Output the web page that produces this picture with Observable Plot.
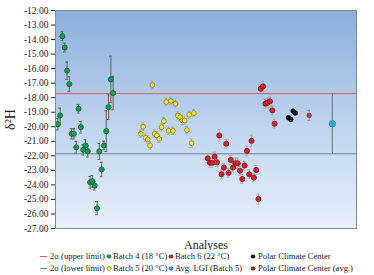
<!DOCTYPE html>
<html><head><meta charset="utf-8">
<script src="https://cdn.jsdelivr.net/npm/d3@7"></script>
<script src="https://cdn.jsdelivr.net/npm/@observablehq/plot@0.6"></script>
<style>
body{margin:0;background:#fff;font-family:"Liberation Serif",serif;}
#legend{position:relative;width:374px;height:25px;font-size:8.6px;color:#222;}
#legend .item{position:absolute;white-space:nowrap;line-height:10px;}
#legend .sw{position:absolute;}
</style></head><body><div id="chart"></div><div id="legend"></div><script>
// Batch 4 (18 °C): analyses 1..25
const batch4Start = 1;
const batch4 = [-19.82,-19.22,-13.77,-14.55,-16.14,-17.06,-20.48,-20.48,-21.41,-18.76,-20.03,-21.59,-21.29,-21.68,-23.82,-23.75,-24.05,-25.61,-21.70,-22.94,-21.29,-20.30,-18.65,-16.74,-17.68];
const batch4Err = [0.4,0.5,0.3,0.3,0.6,0.5,0.35,0.35,0.4,0.3,0.4,0.35,0.4,0.4,0.4,0.4,0.3,0.45,0.55,0.5,0.3,1.4,0.85,1.6,1.15];
// Batch 5 (20 °C): analyses 37..60
const batch5Start = 37;
const batch5 = [-20.48,-20.0,-20.76,-20.88,-21.29,-17.13,-20.48,-20.60,-20.83,-20.03,-19.61,-18.30,-20.28,-18.23,-20.28,-18.41,-19.22,-19.34,-19.57,-19.57,-20.23,-19.17,-21.13,-19.06];
const batch5Err = [0.25,0.25,0.25,0.25,0.25,0.25,0.25,0.25,0.25,0.25,0.25,0.25,0.25,0.25,0.25,0.25,0.25,0.25,0.3,0.25,0.25,0.25,0.3,0.25];
// Batch 6 (22 °C): analyses 66..95
const batch6Start = 66;
const batch6 = [-22.17,-22.48,-22.48,-22.05,-22.44,-20.60,-23.27,-22.81,-21.17,-23.17,-22.28,-22.81,-22.51,-22.51,-23.03,-23.59,-22.67,-21.66,-23.27,-20.97,-23.50,-22.97,-24.97,-17.38,-17.22,-18.41,-18.34,-18.25,-18.88,-19.79];
const batch6Err = [0.3,0.3,0.3,0.3,0.3,0.4,0.3,0.3,0.3,0.3,0.3,0.3,0.35,0.35,0.3,0.3,0.3,0.35,0.3,0.4,0.3,0.3,0.35,0.3,0.3,0.3,0.3,0.3,0.3,0.3];
// Polar Climate Center: analyses 101..104
const pccStart = 101;
const pcc = [-19.38,-19.50,-18.92,-19.06];
// Polar Climate Center (avg.)
const pccAvgN = 110, pccAvg = -19.22, pccAvgErr = 0.35;
// Avg. LGI (Batch 5)
const lgiN = 120, lgi = -19.79;
// 2σ limits
const upperLimit = -17.72, lowerLimit = -21.86;
const yTicks = [-27,-26,-25,-24,-23,-22,-21,-20,-19,-18,-17,-16,-15,-14,-13,-12];

const rows = (vals, errs, start) => vals.map((v, i) => ({n: start + i, v, e: errs ? errs[i] : 0}));
const b4 = rows(batch4, batch4Err, batch4Start);
const b5 = rows(batch5, batch5Err, batch5Start);
const b6 = rows(batch6, batch6Err, batch6Start);
const pc = rows(pcc, null, pccStart);
const pa = [{n: pccAvgN, v: pccAvg, e: pccAvgErr}];
const lg = [{n: lgiN, v: lgi, lo: lowerLimit, hi: upperLimit}];

function errMarks(data, color, w) {
  return [
    Plot.ruleX(data, {x: "n", y1: d => d.v - d.e, y2: d => d.v + d.e, stroke: color, strokeWidth: w}),
    Plot.ruleY(data, {x1: d => d.n - 0.6, x2: d => d.n + 0.6, y: d => d.v - d.e, stroke: color, strokeWidth: w}),
    Plot.ruleY(data, {x1: d => d.n - 0.6, x2: d => d.n + 0.6, y: d => d.v + d.e, stroke: color, strokeWidth: w})
  ];
}

const defs = () => {
  const d = d3.create("svg:defs");
  const g = d.append("linearGradient").attr("id", "bg").attr("x1", 0).attr("y1", 0).attr("x2", 0).attr("y2", 1);
  g.append("stop").attr("offset", "0%").attr("stop-color", "#8cafdc");
  g.append("stop").attr("offset", "55%").attr("stop-color", "#c0d5ef");
  g.append("stop").attr("offset", "100%").attr("stop-color", "#e8f0fa");
  return d.node();
};

const chart = Plot.plot({
  width: 374, height: 250,
  marginLeft: 55, marginRight: 18, marginTop: 10, marginBottom: 22,
  style: {fontFamily: "Liberation Serif, serif", fontSize: "9.5px", background: "transparent", color: "#222"},
  x: {domain: [0, 130.5]},
  y: {domain: [-27, -12]},
  marks: [
    defs,
    Plot.frame({fill: "url(#bg)"}),
    Plot.axisY({ticks: yTicks, tickFormat: d => d.toFixed(2), tickSize: 4, tickPadding: 3, label: "δ²H", labelAnchor: "center", labelOffset: 50, labelArrow: "none"}),
    Plot.axisX({ticks: [], label: "Analyses", labelAnchor: "center", labelOffset: 20, labelArrow: "none"}),
    Plot.ruleY([upperLimit], {stroke: "#e0585c", strokeWidth: 1}),
    Plot.ruleY([lowerLimit], {stroke: "#6f8197", strokeWidth: 1}),
    Plot.ruleX(lg, {x: "n", y1: "lo", y2: "hi", stroke: "#707070", strokeWidth: 1}),
    ...errMarks(b4, "#606060", 1),
    ...errMarks(b5, "#a0a0a0", 0.8),
    ...errMarks(b6, "#a0a0a0", 0.8),
    ...errMarks(pa, "#808080", 0.8),
    Plot.dot(b4, {x: "n", y: "v", r: 2.6, fill: "#159a4e", stroke: "#0b4f28", strokeWidth: 0.6}),
    Plot.dot(b5, {x: "n", y: "v", r: 2.4, fill: "#f6e62a", stroke: "#6f6420", strokeWidth: 0.6}),
    Plot.dot(b6, {x: "n", y: "v", r: 2.6, fill: "#d8202a", stroke: "#6a0e12", strokeWidth: 0.6}),
    Plot.dot(pc, {x: "n", y: "v", r: 2.4, fill: "#111", stroke: "#000", strokeWidth: 0.5}),
    Plot.dot(pa, {x: "n", y: "v", r: 2.3, fill: "#b0403e", stroke: "#5a1a1a", strokeWidth: 0.5}),
    Plot.dot(lg, {x: "n", y: "v", r: 3.3, fill: "#2ba6df", stroke: "#1b7ab0", strokeWidth: 0.6}),
    Plot.frame({stroke: "#7d8a9a", strokeWidth: 1})
  ]
});
d3.select(chart).selectAll('[aria-label="y-axis label"] text').style("font-size", "14px");
d3.select(chart).selectAll('[aria-label="x-axis label"] text').style("font-size", "12px");
document.getElementById("chart").appendChild(chart);

// legend
const legendItems = [
  {label: "2σ (upper limit)", kind: "line", color: "#e0585c", col: 0, row: 0},
  {label: "2σ (lower limit)", kind: "line", color: "#6f8197", col: 0, row: 1},
  {label: "Batch 4 (18 °C)", kind: "dot", color: "#159a4e", col: 1, row: 0},
  {label: "Batch 5 (20 °C)", kind: "dot", color: "#f6e62a", col: 1, row: 1},
  {label: "Batch 6 (22 °C)", kind: "dot", color: "#d8202a", col: 2, row: 0},
  {label: "Avg. LGI (Batch 5)", kind: "dot", color: "#2ba6df", col: 2, row: 1},
  {label: "Polar Climate Center", kind: "dot", color: "#111", col: 3, row: 0},
  {label: "Polar Climate Center (avg.)", kind: "dot", color: "#8a2a2a", col: 3, row: 1}
];
const colSw = [40, 107, 169, 251];
const colTx = [50, 113, 175, 258];
const leg = d3.select("#legend");
legendItems.forEach(it => {
  const top = 1 + it.row * 12;
  if (it.kind === "line") {
    leg.append("div").attr("class", "sw").style("left", colSw[it.col] + "px").style("top", (top + 5) + "px")
      .style("width", "7px").style("height", "1.2px").style("background", it.color);
  } else {
    leg.append("div").attr("class", "sw").style("left", colSw[it.col] + "px").style("top", (top + 3.5) + "px")
      .style("width", "3.5px").style("height", "3.5px").style("border-radius", "50%").style("background", it.color)
      .style("box-shadow", "0 0 0 0.4px #555");
  }
  leg.append("div").attr("class", "item").style("left", colTx[it.col] + "px").style("top", top + "px").text(it.label);
});
</script></body></html>
